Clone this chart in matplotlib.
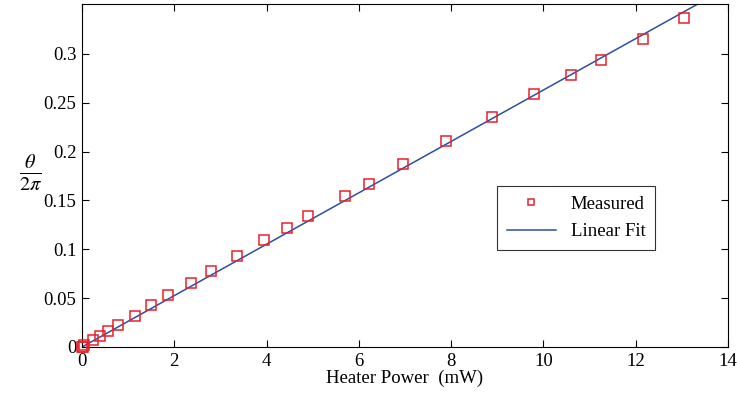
import numpy as np
import matplotlib
matplotlib.use('Agg')
import matplotlib.pyplot as plt

# measured heater power (mW) and phase shift theta/2pi
power_mw = [0.0, 0.02, 0.05, 0.24, 0.39, 0.57, 0.78, 1.15, 1.50, 1.87, 2.37,
            2.79, 3.35, 3.94, 4.44, 4.90, 5.69, 6.21, 6.95, 7.89, 8.89, 9.80,
            10.59, 11.24, 12.16, 13.05]
phase = [0.0, 0.0, 0.002, 0.007, 0.011, 0.016, 0.022, 0.032, 0.043, 0.053,
         0.066, 0.078, 0.093, 0.109, 0.122, 0.134, 0.155, 0.167, 0.187, 0.211,
         0.235, 0.259, 0.278, 0.294, 0.315, 0.337]

# linear fit
fit_slope = 0.0263
fit_intercept = 0.0
fit_x = [0.0, 14.0]

plt.rcParams['font.family'] = ['Liberation Serif', 'DejaVu Serif']
plt.rcParams['mathtext.fontset'] = 'stix'

fig = plt.figure(figsize=(7.37, 3.94), dpi=100)
ax = fig.add_axes([0.1113, 0.1193, 0.8765, 0.8705])

fx = np.array(fit_x)
ax.plot(fx, fit_slope * fx + fit_intercept, color='#2b4ea6', lw=1.1,
        label='Linear Fit', zorder=2)
ax.plot(power_mw, phase, ls='none', marker='s', ms=6.5, mfc='none',
        mec='#e8212b', mew=1.1, label='Measured', zorder=3, clip_on=False)

ax.set_xlim(0, 14)
ax.set_ylim(0, 0.351)
ax.set_xticks(range(0, 15, 2))
ax.set_yticks([0, 0.05, 0.1, 0.15, 0.2, 0.25, 0.3])
ax.set_yticklabels(['0', '0.05', '0.1', '0.15', '0.2', '0.25', '0.3'])
ax.tick_params(direction='in', top=True, right=True, labelsize=13.5,
               length=5, width=0.8, pad=4)
for s in ax.spines.values():
    s.set_linewidth(0.8)

ax.set_xlabel('Heater Power  (mW)', fontsize=13.5, labelpad=0)
ax.set_ylabel(r'$\frac{\theta}{2\pi}$', fontsize=21, rotation=0,
              va='center', ha='center')
ax.yaxis.set_label_coords(-0.08, 0.51)

h, l = ax.get_legend_handles_labels()
leg = ax.legend(h[::-1], l[::-1], loc='upper left',
                bbox_to_anchor=(0.643, 0.468), fontsize=13.5,
                frameon=True, fancybox=False, edgecolor='black',
                handlelength=2.6, borderpad=0.5, labelspacing=0.55,
                markerscale=0.7, borderaxespad=0)
leg.get_frame().set_linewidth(0.8)

fig.savefig('out.png', dpi=100)
